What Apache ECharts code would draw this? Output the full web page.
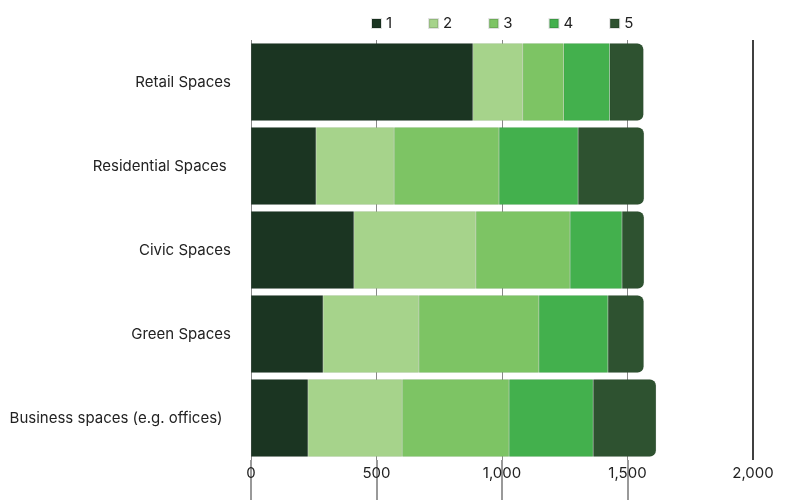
<!DOCTYPE html>
<html>
<head>
<meta charset="utf-8">
<script src="https://cdn.jsdelivr.net/npm/echarts@6/dist/echarts.min.js"></script>
<style>html,body{margin:0;padding:0;background:#fff}#c{width:791px;height:500px}</style>
</head>
<body>
<div id="c"></div>
<script>
const categories = ['Retail Spaces', 'Residential Spaces ', 'Civic Spaces', 'Green Spaces', 'Business spaces (e.g. offices)  '];
const seriesNames = ['1', '2', '3', '4', '5'];
const s1 = [884, 259, 410, 287, 227];
const s2 = [199, 311, 486, 382, 375];
const s3 = [163, 418, 375, 478, 426];
const s4 = [183, 315, 207, 275, 335];
const s5 = [135, 263, 88, 143, 251];
const xTicks = [0, 500, 1000, 1500, 2000];
const colors = ['#1b3522', '#a6d38b', '#7dc464', '#43b04d', '#2e5230'];
const values = [s1, s2, s3, s4, s5];

const chart = echarts.init(document.getElementById('c'), null, {renderer: 'canvas'});
chart.setOption({
  animation: false,
  color: colors,
  textStyle: {fontFamily: 'Inter'},
  legend: {
    top: 11, left: 366,
    itemWidth: 9, itemHeight: 9, itemGap: 36,
    icon: 'rect',
    textStyle: {fontSize: 15, color: '#222', fontFamily: 'Inter'},
    data: seriesNames
  },
  grid: {left: 251, right: 38, top: 40, bottom: 40, containLabel: false},
  xAxis: {
    type: 'value', min: 0, max: 2000, interval: 500,
    axisLine: {show: false},
    axisTick: {show: true, inside: false, length: 40, customValues: xTicks.slice(0, 4), lineStyle: {color: '#999', width: 2}},
    axisLabel: {margin: 6, fontSize: 15, color: '#222', fontFamily: 'Inter',
      formatter: v => v.toLocaleString('en-US'), customValues: xTicks},
    splitLine: {show: true, lineStyle: {color: '#888', width: 1}}
  },
  yAxis: {
    type: 'category', data: categories, inverse: true,
    axisLine: {show: false}, axisTick: {show: false},
    axisLabel: {margin: 20, fontSize: 15, color: '#222', fontFamily: 'Inter'}
  },
  series: values.map((v, i) => ({
    name: seriesNames[i], type: 'bar', stack: 'total', data: v,
    barCategoryGap: '8%',
    itemStyle: {
      color: colors[i],
      borderColor: 'rgba(0,0,0,0.12)', borderWidth: 0.5,
      borderRadius: i === 4 ? [0, 6, 6, 0] : 0
    },
    markLine: i === 0 ? {
      silent: true, symbol: 'none', label: {show: false},
      lineStyle: {color: '#000', type: 'solid', width: 1.5},
      data: [{xAxis: xTicks[4]}]
    } : undefined
  }))
});
</script>
</body>
</html>
